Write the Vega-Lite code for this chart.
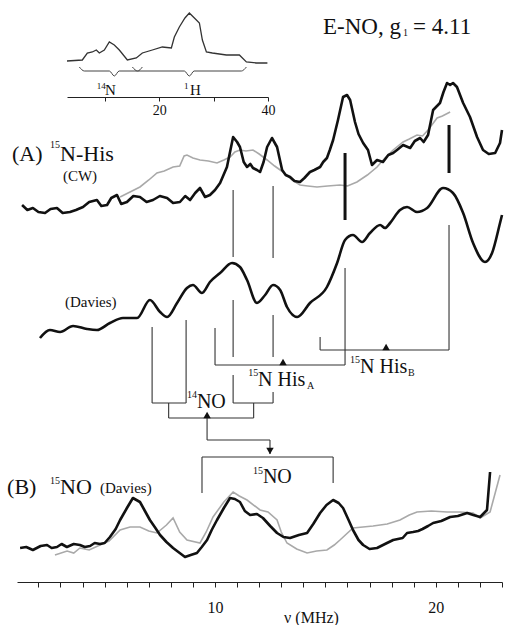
{
  "$schema": "https://vega.github.io/schema/vega-lite/v6.json",
  "width": 485,
  "height": 582,
  "autosize": "none",
  "padding": {"left": 17, "top": 0, "right": 3, "bottom": 43},
  "background": "white",
  "config": {"view": {"stroke": null}, "font": "Liberation Serif", "text": {"font": "Liberation Serif", "color": "#111"}},
  "datasets": {
    "cwBlack": [
      {"x":1.26,"y":377},{"x":1.5,"y":372},{"x":1.75,"y":374},{"x":2.0,"y":370},{"x":2.3,"y":369},{"x":2.55,"y":373},{"x":2.84,"y":374},{"x":3.1,"y":369},{"x":3.43,"y":370},{"x":3.7,"y":372},{"x":4.02,"y":375},{"x":4.3,"y":380},{"x":4.65,"y":382},{"x":4.85,"y":376},{"x":5.11,"y":377},{"x":5.3,"y":384},{"x":5.56,"y":387},{"x":5.75,"y":378},{"x":6.01,"y":380},{"x":6.3,"y":386},{"x":6.6,"y":385},{"x":6.9,"y":380},{"x":7.19,"y":382},{"x":7.5,"y":386},{"x":7.83,"y":384},{"x":8.1,"y":379},{"x":8.41,"y":380},{"x":8.65,"y":386},{"x":8.87,"y":382},{"x":9.1,"y":389},{"x":9.32,"y":394},{"x":9.55,"y":385},{"x":9.77,"y":387},{"x":10.0,"y":392},{"x":10.23,"y":399},{"x":10.54,"y":415},{"x":10.82,"y":445},{"x":11.0,"y":440},{"x":11.13,"y":435},{"x":11.3,"y":420},{"x":11.45,"y":415},{"x":11.6,"y":418},{"x":11.72,"y":414},{"x":11.9,"y":412},{"x":12.04,"y":410},{"x":12.2,"y":420},{"x":12.36,"y":435},{"x":12.58,"y":444},{"x":12.81,"y":435},{"x":13.04,"y":412},{"x":13.2,"y":407},{"x":13.4,"y":405},{"x":13.6,"y":401},{"x":13.85,"y":400},{"x":14.05,"y":404},{"x":14.3,"y":410},{"x":14.5,"y":412},{"x":14.76,"y":415},{"x":14.9,"y":420},{"x":15.07,"y":424},{"x":15.2,"y":432},{"x":15.35,"y":442},{"x":15.57,"y":462},{"x":15.8,"y":485},{"x":15.98,"y":487},{"x":16.12,"y":482},{"x":16.34,"y":460},{"x":16.5,"y":448},{"x":16.71,"y":439},{"x":16.93,"y":432},{"x":17.11,"y":417},{"x":17.34,"y":422},{"x":17.61,"y":420},{"x":17.85,"y":427},{"x":18.07,"y":429},{"x":18.3,"y":433},{"x":18.52,"y":437},{"x":18.84,"y":434},{"x":19.05,"y":441},{"x":19.29,"y":444},{"x":19.45,"y":440},{"x":19.65,"y":447},{"x":19.88,"y":472},{"x":20.19,"y":479},{"x":20.35,"y":490},{"x":20.51,"y":499},{"x":20.65,"y":497},{"x":20.78,"y":499},{"x":20.96,"y":495},{"x":21.24,"y":479},{"x":21.55,"y":465},{"x":21.87,"y":445},{"x":22.14,"y":432},{"x":22.4,"y":428},{"x":22.69,"y":429},{"x":22.91,"y":439},{"x":23.0,"y":452}
    ],
    "cwGray": [
      {"x":5.7,"y":385},{"x":6.15,"y":390},{"x":6.6,"y":395},{"x":7.0,"y":402},{"x":7.37,"y":409},{"x":7.7,"y":411},{"x":8.1,"y":415},{"x":8.4,"y":416},{"x":8.6,"y":426},{"x":8.73,"y":427},{"x":9.0,"y":424},{"x":9.32,"y":422},{"x":9.7,"y":421},{"x":10.09,"y":419},{"x":10.4,"y":422},{"x":10.68,"y":425},{"x":10.9,"y":430},{"x":11.13,"y":432},{"x":11.4,"y":431},{"x":11.72,"y":432},{"x":12.0,"y":428},{"x":12.36,"y":422},{"x":12.7,"y":416},{"x":13.08,"y":410},{"x":13.5,"y":402},{"x":13.85,"y":397},{"x":14.2,"y":396},{"x":14.62,"y":395},{"x":15.1,"y":396},{"x":15.66,"y":397},{"x":16.0,"y":396},{"x":16.43,"y":400},{"x":16.9,"y":407},{"x":17.34,"y":415},{"x":17.7,"y":424},{"x":18.07,"y":432},{"x":18.52,"y":440},{"x":18.8,"y":443},{"x":19.15,"y":447},{"x":19.4,"y":446},{"x":19.65,"y":452},{"x":20.06,"y":464},{"x":20.3,"y":466},{"x":20.65,"y":470}
    ],
    "daviesA": [
      {"x":2.07,"y":244},{"x":2.52,"y":252},{"x":2.98,"y":250},{"x":3.57,"y":256},{"x":4.2,"y":253},{"x":4.65,"y":252},{"x":5.24,"y":259},{"x":5.83,"y":264},{"x":6.47,"y":264},{"x":7.05,"y":282},{"x":7.51,"y":270},{"x":7.83,"y":265},{"x":8.28,"y":279},{"x":8.73,"y":294},{"x":9.0,"y":297},{"x":9.41,"y":289},{"x":9.77,"y":300},{"x":10.23,"y":309},{"x":10.77,"y":319},{"x":11.13,"y":315},{"x":11.45,"y":302},{"x":11.9,"y":279},{"x":12.27,"y":287},{"x":12.63,"y":297},{"x":12.95,"y":292},{"x":13.26,"y":275},{"x":13.72,"y":265},{"x":14.3,"y":279},{"x":15.07,"y":295},{"x":15.53,"y":319},{"x":15.89,"y":342},{"x":16.25,"y":347},{"x":16.66,"y":340},{"x":17.02,"y":349},{"x":17.48,"y":357},{"x":17.7,"y":354},{"x":17.93,"y":359},{"x":18.38,"y":372},{"x":18.7,"y":375},{"x":19.15,"y":370},{"x":19.61,"y":374},{"x":20.33,"y":394},{"x":20.78,"y":389},{"x":21.24,"y":369},{"x":21.69,"y":339},{"x":22.23,"y":320},{"x":22.55,"y":329},{"x":22.91,"y":359},{"x":23.0,"y":367}
    ],
    "bBlack": [
      {"x":1.17,"y":34},{"x":1.45,"y":35},{"x":1.75,"y":32},{"x":2.1,"y":36},{"x":2.39,"y":37},{"x":2.6,"y":34},{"x":2.84,"y":35},{"x":3.05,"y":38},{"x":3.29,"y":35},{"x":3.6,"y":38},{"x":3.88,"y":37},{"x":4.1,"y":35},{"x":4.34,"y":36},{"x":4.55,"y":39},{"x":4.79,"y":38},{"x":5.0,"y":39},{"x":5.24,"y":45},{"x":5.5,"y":53},{"x":5.7,"y":62},{"x":6.01,"y":74},{"x":6.28,"y":84},{"x":6.6,"y":80},{"x":6.8,"y":72},{"x":7.05,"y":62},{"x":7.3,"y":54},{"x":7.51,"y":47},{"x":7.8,"y":40},{"x":8.1,"y":34},{"x":8.4,"y":29},{"x":8.64,"y":25},{"x":8.9,"y":27},{"x":9.18,"y":29},{"x":9.4,"y":35},{"x":9.64,"y":42},{"x":9.85,"y":52},{"x":10.09,"y":62},{"x":10.4,"y":74},{"x":10.68,"y":84},{"x":10.9,"y":83},{"x":11.13,"y":80},{"x":11.35,"y":71},{"x":11.59,"y":67},{"x":11.9,"y":68},{"x":12.17,"y":64},{"x":12.5,"y":56},{"x":12.81,"y":49},{"x":13.1,"y":45},{"x":13.4,"y":44},{"x":13.8,"y":47},{"x":14.17,"y":49},{"x":14.45,"y":58},{"x":14.76,"y":69},{"x":15.05,"y":77},{"x":15.35,"y":82},{"x":15.6,"y":79},{"x":15.8,"y":74},{"x":16.05,"y":62},{"x":16.25,"y":52},{"x":16.5,"y":42},{"x":16.71,"y":37},{"x":17.0,"y":33},{"x":17.34,"y":34},{"x":17.7,"y":38},{"x":18.07,"y":42},{"x":18.5,"y":44},{"x":18.7,"y":49},{"x":18.97,"y":50},{"x":19.2,"y":51},{"x":19.4,"y":53},{"x":19.65,"y":56},{"x":19.88,"y":59},{"x":20.25,"y":61},{"x":20.65,"y":65},{"x":21.0,"y":66},{"x":21.42,"y":69},{"x":21.7,"y":67},{"x":22.01,"y":65},{"x":22.32,"y":72},{"x":22.46,"y":110}
    ],
    "bGray": [
      {"x":2.75,"y":27},{"x":3.3,"y":31},{"x":3.6,"y":29},{"x":3.88,"y":34},{"x":4.3,"y":32},{"x":4.79,"y":37},{"x":5.2,"y":41},{"x":5.7,"y":52},{"x":6.15,"y":55},{"x":6.6,"y":55},{"x":7.0,"y":51},{"x":7.37,"y":49},{"x":7.8,"y":57},{"x":8.1,"y":64},{"x":8.4,"y":50},{"x":8.73,"y":42},{"x":9.32,"y":39},{"x":9.6,"y":50},{"x":9.91,"y":65},{"x":10.4,"y":80},{"x":10.82,"y":90},{"x":11.1,"y":86},{"x":11.45,"y":82},{"x":12.04,"y":72},{"x":12.4,"y":70},{"x":12.81,"y":62},{"x":13.0,"y":50},{"x":13.26,"y":39},{"x":13.7,"y":33},{"x":14.17,"y":29},{"x":14.6,"y":31},{"x":15.07,"y":32},{"x":15.4,"y":37},{"x":15.66,"y":42},{"x":16.25,"y":54},{"x":16.7,"y":55},{"x":17.16,"y":56},{"x":17.8,"y":58},{"x":18.38,"y":62},{"x":18.8,"y":67},{"x":19.15,"y":70},{"x":19.8,"y":71},{"x":20.51,"y":70},{"x":21.1,"y":70},{"x":21.69,"y":69},{"x":22.01,"y":64},{"x":22.46,"y":70},{"x":22.91,"y":107}
    ],
    "inset": [
      {"x":3.0,"y":521},{"x":5.82,"y":522},{"x":6.74,"y":529},{"x":7.66,"y":530},{"x":8.4,"y":532},{"x":8.95,"y":529},{"x":9.87,"y":532},{"x":10.79,"y":540},{"x":11.71,"y":537},{"x":12.63,"y":532},{"x":14.11,"y":522},{"x":15.76,"y":524},{"x":16.87,"y":529},{"x":18.71,"y":532},{"x":20.55,"y":535},{"x":22.21,"y":534},{"x":22.76,"y":545},{"x":23.68,"y":555},{"x":24.71,"y":564},{"x":25.52,"y":569},{"x":26.45,"y":564},{"x":27.37,"y":559},{"x":27.92,"y":542},{"x":28.66,"y":530},{"x":29.76,"y":529},{"x":32.34,"y":527},{"x":34.73,"y":527},{"x":36.02,"y":520},{"x":37.86,"y":519},{"x":39.89,"y":519}
    ],
    "braces": [
      {"b":"N","x":5.27,"y":515},{"b":"N","x":6.2,"y":511},{"b":"N","x":10.8,"y":511},{"b":"N","x":11.71,"y":506},{"b":"N","x":12.6,"y":511},{"b":"N","x":16.0,"y":511},{"b":"N","x":16.87,"y":515},
      {"b":"H","x":15.03,"y":515},{"b":"H","x":16.0,"y":511},{"b":"H","x":24.6,"y":511},{"b":"H","x":25.52,"y":506},{"b":"H","x":26.4,"y":511},{"b":"H","x":35.1,"y":511},{"b":"H","x":36.02,"y":515}
    ],
    "insetLabels": [
      {"t":"N","x":10.98,"y":492},{"t":"H","x":26.63,"y":492}
    ],
    "insetSup": [
      {"t":"14","x":9.32,"y":496},{"t":"1","x":24.97,"y":496}
    ],
    "thinRules": [
      {"x":10.82,"x2":10.82,"y":392,"y2":325},{"x":12.63,"x2":12.63,"y":396,"y2":324},
      {"x":10.82,"x2":10.82,"y":282,"y2":225},{"x":12.63,"x2":12.63,"y":267,"y2":225},
      {"x":10.0,"x2":10.0,"y":254,"y2":217},{"x":10.0,"x2":15.89,"y":217,"y2":217},{"x":15.89,"x2":15.89,"y":314,"y2":217},
      {"x":14.76,"x2":14.76,"y":245,"y2":232},{"x":14.76,"x2":20.6,"y":232,"y2":232},{"x":20.6,"x2":20.6,"y":357,"y2":232},
      {"x":7.15,"x2":7.15,"y":255,"y2":179},{"x":8.69,"x2":8.69,"y":262,"y2":179},{"x":7.15,"x2":8.69,"y":179,"y2":179},
      {"x":10.82,"x2":10.82,"y":207,"y2":179},{"x":12.63,"x2":12.63,"y":190,"y2":179},{"x":10.82,"x2":12.63,"y":179,"y2":179},
      {"x":7.9,"x2":7.9,"y":179,"y2":164},{"x":7.9,"x2":11.75,"y":164,"y2":164},{"x":11.75,"x2":11.75,"y":179,"y2":164},
      {"x":9.64,"x2":9.64,"y":164,"y2":142},{"x":9.64,"x2":12.49,"y":142,"y2":142},{"x":12.49,"x2":12.49,"y":142,"y2":128},
      {"x":9.41,"x2":15.35,"y":125,"y2":125},{"x":9.41,"x2":9.41,"y":125,"y2":89},{"x":15.35,"x2":15.35,"y":125,"y2":99}
    ],
    "thickRules": [
      {"x":15.89,"x2":15.89,"y":429,"y2":362},{"x":20.6,"x2":20.6,"y":457,"y2":409}
    ],
    "triUp": [
      {"x":13.08,"y":220},{"x":17.75,"y":235},{"x":9.64,"y":167}
    ],
    "triDown": [
      {"x":12.49,"y":131}
    ],
    "bigText": [
      {"t":"(A)","x":0.8,"y":428},{"t":"N-His","x":2.98,"y":428},
      {"t":"(B)","x":0.58,"y":95},{"t":"NO","x":2.98,"y":95}
    ],
    "titleText": [
      {"t":"E-NO, g","x":14.89,"y":555},{"t":"= 4.11","x":18.97,"y":555}
    ],
    "midText": [
      {"t":"N His","x":11.95,"y":202},{"t":"N His","x":16.57,"y":215},
      {"t":"NO","x":9.18,"y":180},{"t":"NO","x":12.17,"y":105}
    ],
    "smallText": [
      {"t":"(CW)","x":3.11,"y":406},{"t":"(Davies)","x":3.2,"y":280},{"t":"(Davies)","x":4.79,"y":94}
    ],
    "supText": [
      {"t":"15","x":2.52,"y":437},{"t":"15","x":11.5,"y":209},{"t":"15","x":16.12,"y":222},
      {"t":"14","x":8.73,"y":187},{"t":"15","x":11.72,"y":111},{"t":"15","x":2.52,"y":101},
      {"t":"A","x":14.17,"y":196},{"t":"B","x":18.74,"y":209},{"t":"1","x":18.52,"y":549}
    ]
  },
  "layer": [
    {
      "encoding": {
        "x": {"field": "x", "type": "quantitative",
          "scale": {"domain": [1.03, 23.0], "nice": false, "zero": false},
          "axis": {"values": [2,3,4,5,6,7,8,9,10,11,12,13,14,15,16,17,18,19,20,21,22,23],
            "labelExpr": "datum.value == 10 || datum.value == 20 ? datum.label : ''",
            "tickSize": 5, "tickColor": "#222", "domainColor": "#222", "grid": false,
            "labelFont": "Liberation Serif", "labelFontSize": 16, "labelColor": "#111", "labelPadding": 12,
            "labelFlush": false, "labelOverlap": false,
            "title": "ν (MHz)", "titleFont": "Liberation Serif", "titleFontSize": 16, "titleFontWeight": "normal",
            "titleColor": "#111", "titleX": 294, "titleY": 40, "titleBaseline": "alphabetic", "titleAlign": "center", "titleAnchor": null}},
        "y": {"field": "y", "type": "quantitative", "scale": {"domain": [0, 582], "nice": false, "zero": false}, "axis": null}
      },
      "layer": [
        {"data": {"name": "cwGray"}, "mark": {"type": "line", "color": "#a9a9a9", "strokeWidth": 1.6}},
        {"data": {"name": "cwBlack"}, "mark": {"type": "line", "color": "#111", "strokeWidth": 2.6, "strokeJoin": "round"}},
        {"data": {"name": "daviesA"}, "mark": {"type": "line", "color": "#111", "strokeWidth": 2.6, "interpolate": "monotone"}},
        {"data": {"name": "bGray"}, "mark": {"type": "line", "color": "#a9a9a9", "strokeWidth": 1.6}},
        {"data": {"name": "bBlack"}, "mark": {"type": "line", "color": "#111", "strokeWidth": 2.6, "strokeJoin": "round"}},
        {"data": {"name": "thinRules"}, "mark": {"type": "rule", "color": "#333", "strokeWidth": 1.1},
          "encoding": {"x2": {"field": "x2"}, "y2": {"field": "y2"}}},
        {"data": {"name": "thickRules"}, "mark": {"type": "rule", "color": "#111", "strokeWidth": 3},
          "encoding": {"x2": {"field": "x2"}, "y2": {"field": "y2"}}},
        {"data": {"name": "triUp"}, "mark": {"type": "point", "shape": "triangle-up", "filled": true, "color": "#111", "size": 55, "opacity": 1}},
        {"data": {"name": "triDown"}, "mark": {"type": "point", "shape": "triangle-down", "filled": true, "color": "#111", "size": 55, "opacity": 1}},
        {"data": {"name": "bigText"}, "mark": {"type": "text", "align": "left", "baseline": "middle", "fontSize": 22, "font": "Liberation Serif"}, "encoding": {"text": {"field": "t"}}},
        {"data": {"name": "titleText"}, "mark": {"type": "text", "align": "left", "baseline": "middle", "fontSize": 23, "font": "Liberation Serif"}, "encoding": {"text": {"field": "t"}}},
        {"data": {"name": "midText"}, "mark": {"type": "text", "align": "left", "baseline": "middle", "fontSize": 20, "font": "Liberation Serif"}, "encoding": {"text": {"field": "t"}}},
        {"data": {"name": "smallText"}, "mark": {"type": "text", "align": "left", "baseline": "middle", "fontSize": 15, "font": "Liberation Serif"}, "encoding": {"text": {"field": "t"}}},
        {"data": {"name": "supText"}, "mark": {"type": "text", "align": "left", "baseline": "middle", "fontSize": 10, "font": "Liberation Serif"}, "encoding": {"text": {"field": "t"}}}
      ]
    },
    {
      "encoding": {
        "x": {"field": "x", "type": "quantitative",
          "scale": {"domain": [3, 40], "range": [50, 251], "nice": false, "zero": false},
          "axis": {"orient": "bottom", "offset": -485, "values": [10, 20, 30, 40],
            "labelExpr": "datum.value == 20 || datum.value == 40 ? datum.label : ''",
            "tickSize": 4, "tickColor": "#222", "domainColor": "#222", "grid": false,
            "labelFont": "Liberation Serif", "labelFontSize": 14, "labelColor": "#111", "labelPadding": 2,
            "labelFlush": false, "labelOverlap": false, "title": null}},
        "y": {"field": "y", "type": "quantitative", "scale": {"domain": [0, 582], "nice": false, "zero": false}, "axis": null}
      },
      "layer": [
        {"data": {"name": "inset"}, "mark": {"type": "line", "color": "#333", "strokeWidth": 1.3}},
        {"data": {"name": "braces"}, "mark": {"type": "line", "color": "#444", "strokeWidth": 1, "interpolate": "monotone"},
          "encoding": {"detail": {"field": "b"}}},
        {"data": {"name": "insetLabels"}, "mark": {"type": "text", "align": "center", "baseline": "middle", "fontSize": 15, "font": "Liberation Serif"}, "encoding": {"text": {"field": "t"}}},
        {"data": {"name": "insetSup"}, "mark": {"type": "text", "align": "center", "baseline": "middle", "fontSize": 9, "font": "Liberation Serif"}, "encoding": {"text": {"field": "t"}}}
      ]
    }
  ],
  "resolve": {"scale": {"x": "independent"}}
}
